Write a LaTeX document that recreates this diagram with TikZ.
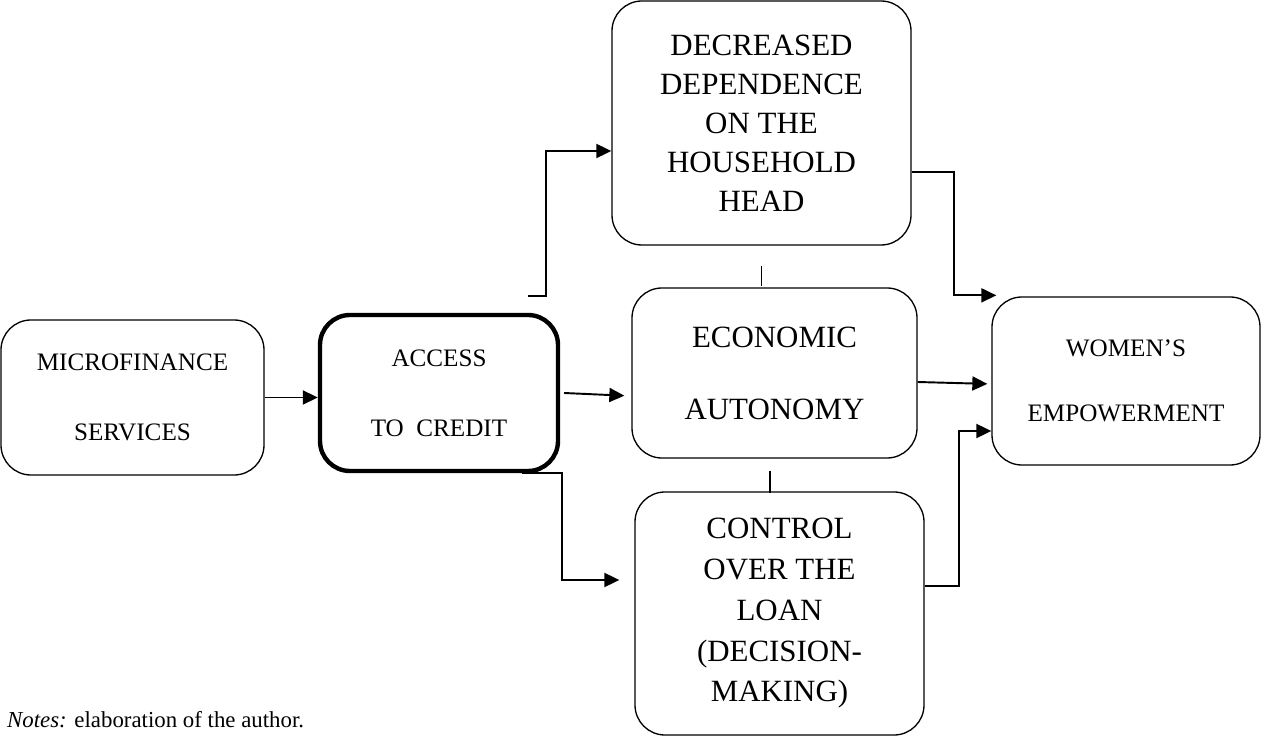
\documentclass[tikz,border=0pt]{standalone}
\usepackage{fontspec}
\setmainfont{Liberation Serif}
\usetikzlibrary{arrows.meta,calc}
\newcommand{\boxline}{0.75pt}
\newcommand{\linkline}{1.1pt}
\tikzset{
  box/.style={draw, rounded corners=0.6cm, line width=\boxline, align=center, inner sep=0pt},
  bigtext/.style={font=\fontsize{17.6}{22.2}\selectfont},
  smalltext/.style={font=\fontsize{14.3}{40}\selectfont},
  link/.style={line width=\linkline, -{Triangle[length=0.3cm,width=0.28cm]}}
}

\begin{document}
\begin{tikzpicture}
\useasboundingbox (0,0) rectangle (25.22,-14.76);
\node[box, smalltext, minimum width=5.26cm, minimum height=3.1cm] (micro) at (2.65,-7.95) {MICROFINANCE\\SERVICES};
\node[box, smalltext, line width=2.5pt, minimum width=4.76cm, minimum height=3.12cm] (access) at (8.78,-7.86) {ACCESS\\TO\ \ CREDIT};
\node[box, bigtext, minimum width=5.98cm, minimum height=4.88cm] (decreased) at (15.23,-2.46) {DECREASED\\DEPENDENCE\\ON THE\\HOUSEHOLD\\HEAD};
\node[box, font=\fontsize{17.6}{41}\selectfont, minimum width=5.70cm, minimum height=3.40cm] (econ) at (15.49,-7.46) {ECONOMIC\\AUTONOMY};
\node[box, font=\fontsize{17.6}{23.2}\selectfont, minimum width=5.78cm, minimum height=4.86cm] (control) at (15.59,-12.27) {CONTROL\\OVER THE\\LOAN\\(DECISION-\\MAKING)};
\node[box, font=\fontsize{14.3}{37}\selectfont, minimum width=5.36cm, minimum height=3.36cm] (women) at (22.52,-7.62) {WOMEN’S\\EMPOWERMENT};
\node[anchor=base west, font=\fontsize{13}{15}\selectfont] (notes) at (0.02,-14.54) {\textit{Notes:} elaboration of the author.};
%links
\draw[link] (micro.east) -- (micro.east -| access.west);
\draw[link, shorten >=0.14cm] ([xshift=0.08cm]access.east) -- ([yshift=-0.46cm]econ.west);
\coordinate (up) at ([shift={(1.78,0.34)}]access.north);
\draw[link] (up) -- ++(0.36,0) |- ([yshift=-0.56cm]decreased.west);
\draw[link, shorten >=0.3cm] ([xshift=-0.76cm]access.south east) -- ++(0.8,0) |- ([yshift=0.67cm]control.west);
\draw[link] ([yshift=-0.98cm]decreased.east) -- ++(0.84,0) |- ([xshift=0.1cm,yshift=0.02cm]women.north west);
\draw[link, shorten >=0.08cm] ([yshift=-0.18cm]econ.east) -- ([yshift=-0.06cm]women.west);
\draw[link] ([yshift=0.55cm]control.east) -- ++(0.68,0) |- ([yshift=-1.0cm]women.west);
%ticks
\draw[line width=\linkline] ([yshift=-0.4cm]decreased.south) -- ++(0,-0.4);
\draw[line width=\linkline] ([shift={(-0.09,-0.24)}]econ.south) -- ++(0,-0.44);
\end{tikzpicture}
\end{document}
